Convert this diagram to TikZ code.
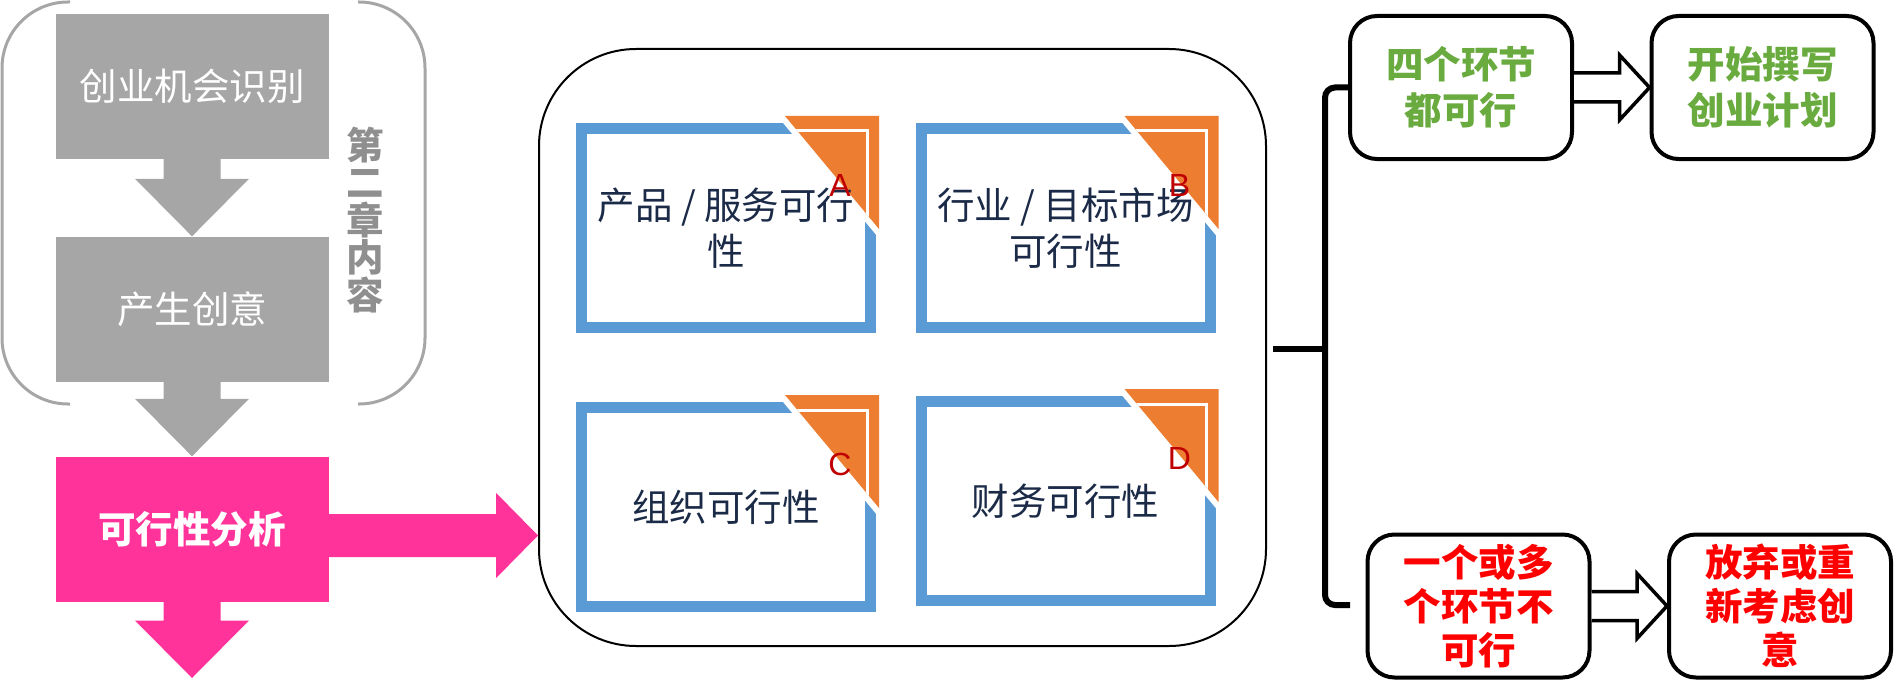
\documentclass[tikz,border=0pt]{standalone}
\usepackage{fontspec}
\usepackage{xcolor}
\newfontfamily\cjk{Noto Sans CJK SC}
\newfontfamily\tagfont{Liberation Sans}
\usetikzlibrary{positioning,calc}

\definecolor{stagegray}{HTML}{A6A6A6}
\definecolor{stagepink}{HTML}{FF3399}
\definecolor{frameblue}{HTML}{5B9BD5}
\definecolor{cornerorange}{HTML}{ED7D31}
\definecolor{textnavy}{HTML}{1B2A47}
\definecolor{tagred}{HTML}{C00000}
\definecolor{okgreen}{HTML}{6AAB3F}
\definecolor{failred}{HTML}{FF0000}
\definecolor{notegray}{HTML}{8F8F8F}

\tikzset{
  stage/.style={fill=#1, minimum width=273pt, minimum height=145pt, inner sep=0pt,
    text=white, font=\cjk\fontsize{37.5}{46}\selectfont},
  feature/.style={draw=frameblue, line width=11pt, minimum width=289pt,
    minimum height=199pt, inner sep=0pt, outer sep=5.5pt},
  featuretext/.style={text=textnavy, align=center, inner sep=0pt,
    font=\cjk\fontsize{37.5}{46}\selectfont},
  tag/.style={text=tagred, inner sep=0pt, font=\tagfont\fontsize{32}{32}\selectfont},
  outcome/.style={draw, line width=4pt, rounded corners=27pt, minimum width=222pt,
    minimum height=143pt, inner sep=0pt, outer sep=2pt, align=center, text=#1,
    font=\cjk\bfseries\fontsize{37.5}{46}\selectfont},
  hollow/.style={draw, line width=3.5pt, line join=miter, fill=white},
}

\begin{document}
\begin{tikzpicture}[x=1pt, y=-1pt]
    \useasboundingbox (0,0) rectangle (1894,682);

    % Chapter two bracket
    \draw[stagegray, line width=3pt, rounded corners=66pt] (70,2) -- (2,2) -- (2,404) -- (70,404);
    \draw[stagegray, line width=3pt, rounded corners=66pt] (358,2) -- (425,2) -- (425,404) -- (358,404);
    \node[text=notegray, align=center, inner sep=0pt,
          font=\cjk\bfseries\fontsize{37.5}{37.5}\selectfont] (chap) at (365,220) {第\\二\\章\\内\\容};

    % Stages
    \node[stage=stagegray] (idea) at (192,86.5) {创业机会识别};
    \node[stage=stagegray] (gen) at (192,309) {产生创意};
    \node[stage=stagepink, font=\cjk\bfseries\fontsize{37.5}{46}\selectfont] (fsb) at (192,529) {可行性分析};
    \coordinate (next) at (192,678);

    % Down arrows
    \foreach \a/\b/\c in {idea/gen.north/stagegray, gen/fsb.north/stagegray, fsb/next/stagepink}
        \fill[\c] ($(\a.south)+(-28.5,0)$) |- ($(\b)+(-57,-57.5)$) -- (\b)
            -- ($(\b)+(57,-57.5)$) -| ($(\a.south)+(28.5,0)$) -- cycle;

    % Feasibility frame
    \node[draw, line width=2pt, rounded corners=97pt, minimum width=727pt,
          minimum height=597pt, inner sep=0pt] (frame) at (902.5,347.5) {};
    \coordinate (pmid) at (0,535.5);
    \coordinate (ptip) at (frame.west |- pmid);
    \fill[stagepink] ($(fsb.east |- pmid)+(0,-21.5)$) -- ($(ptip)+(-42,-21.5)$)
        -- ($(ptip)+(-42,-42.7)$) -- (ptip) -- ($(ptip)+(-42,42.7)$)
        -- ($(ptip)+(-42,21.5)$) -- ($(fsb.east |- pmid)+(0,21.5)$) -- cycle;

    % Four checks
    \node[feature] (prod) at (726,228) {};
    \node[feature] (mkt) at (1065.5,228) {};
    \node[feature] (org) at (726,507) {};
    \node[feature] (fin) at (1065.5,501) {};
    \foreach \n in {prod,mkt,org,fin} {
        \fill[white] ($(\n.north east)+(-102.1,-11)$) -- ($(\n.north east)+(8,-11)$)
            -- ($(\n.north east)+(8,121.3)$) -- cycle;
        \fill[cornerorange] ($(\n.north east)+(-91,-7)$) -- ($(\n.north east)+(3,-7)$)
            -- ($(\n.north east)+(3,106)$) -- cycle;
        \begin{scope}
            \clip ($(\n.north east)+(-91,-7)$) -- ($(\n.north east)+(3,-7)$)
                -- ($(\n.north east)+(3,106)$) -- cycle;
            \draw[white, line width=3pt] ($(\n.north east)+(-100,8)$)
                -- ($(\n.north east)+(-9,8)$) -- ($(\n.north east)+(-9,120)$);
        \end{scope}
    }
    \node[featuretext] (prodt) at (prod) {产品 / 服务可行\\性};
    \node[featuretext] (mktt) at (mkt) {行业 / 目标市场\\可行性};
    \node[featuretext] (orgt) at (org) {组织可行性};
    \node[featuretext] (fint) at (fin) {财务可行性};
    \foreach \n/\l in {prod/A, mkt/B, org/C, fin/D}
        \node[tag] (tag\l) at ($(\n.north east)+(-36,62.5)$) {\l};

    % Outcomes
    \node[outcome=okgreen] (ok) at (1461,87.5) {四个环节\\都可行};
    \node[outcome=okgreen] (plan) at (1762.5,87.5) {开始撰写\\创业计划};
    \node[outcome=failred, font=\cjk\bfseries\fontsize{37.5}{44}\selectfont] (fail) at (1478.5,606) {一个或多\\个环节不\\可行};
    \node[outcome=failred, font=\cjk\bfseries\fontsize{37.5}{44}\selectfont] (redo) at (1780,606) {放弃或重\\新考虑创\\意};
    \foreach \s/\t in {ok/plan, fail/redo}
        \draw[hollow] ($(\s.east)+(0,-14.5)$) -- ($(\t.west)+(-30,-14.5)$)
            -- ($(\t.west)+(-30,-32.5)$) -- (\t.west) -- ($(\t.west)+(-30,32.5)$)
            -- ($(\t.west)+(-30,14.5)$) -- ($(\s.east)+(0,14.5)$);

    % Brace
    \coordinate (bmid) at (1325,349);
    \coordinate (btip) at (1273,349);
    \coordinate (bend) at (1350,605);
    \draw[line width=6pt, rounded corners=10pt] (ok.west) -| (bmid) |- (bend);
    \draw[line width=6pt] (bmid) -- (btip);
\end{tikzpicture}
\end{document}
